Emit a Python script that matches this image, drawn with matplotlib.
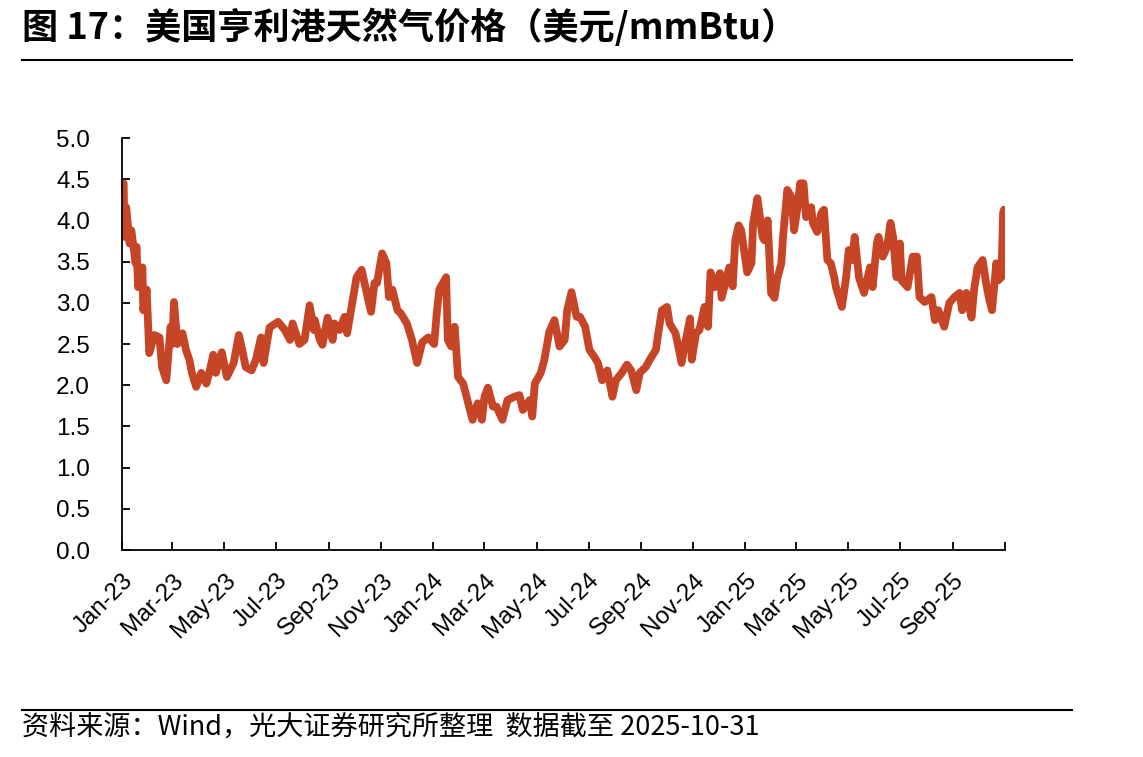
import pandas as pd
import matplotlib.pyplot as plt
from matplotlib.lines import Line2D

# 亨利港天然气现货价格
dates = [
    '2023-01-03', '2023-01-04', '2023-01-06', '2023-01-10', '2023-01-12', '2023-01-17', '2023-01-18',
    '2023-01-20', '2023-01-25', '2023-01-26', '2023-01-30', '2023-02-02', '2023-02-08', '2023-02-14',
    '2023-02-17', '2023-02-22', '2023-02-27', '2023-03-01', '2023-03-03', '2023-03-07', '2023-03-13',
    '2023-03-17', '2023-03-21', '2023-03-24', '2023-03-29', '2023-04-04', '2023-04-10', '2023-04-14',
    '2023-04-18', '2023-04-21', '2023-04-28', '2023-05-04', '2023-05-12', '2023-05-18', '2023-05-22',
    '2023-05-26', '2023-06-02', '2023-06-07', '2023-06-13', '2023-06-16', '2023-06-23', '2023-07-03',
    '2023-07-11', '2023-07-17', '2023-07-20', '2023-07-28', '2023-08-03', '2023-08-09', '2023-08-14',
    '2023-08-15', '2023-08-21', '2023-08-24', '2023-08-30', '2023-09-05', '2023-09-07', '2023-09-13',
    '2023-09-19', '2023-09-22', '2023-09-27', '2023-10-03', '2023-10-09', '2023-10-16', '2023-10-20',
    '2023-10-24', '2023-10-27', '2023-11-02', '2023-11-07', '2023-11-10', '2023-11-14', '2023-11-20',
    '2023-11-24', '2023-12-01', '2023-12-07', '2023-12-13', '2023-12-19', '2023-12-26',
    '2024-01-02', '2024-01-05', '2024-01-08', '2024-01-16', '2024-01-18', '2024-01-22', '2024-01-26',
    '2024-01-30', '2024-02-05', '2024-02-09', '2024-02-16', '2024-02-22', '2024-02-27', '2024-03-01',
    '2024-03-05', '2024-03-11', '2024-03-15', '2024-03-22', '2024-03-28', '2024-04-05', '2024-04-11',
    '2024-04-15', '2024-04-23', '2024-04-26', '2024-04-29', '2024-05-06', '2024-05-10', '2024-05-16',
    '2024-05-22', '2024-05-28', '2024-06-03', '2024-06-06', '2024-06-11', '2024-06-17', '2024-06-21',
    '2024-06-27', '2024-07-02', '2024-07-08', '2024-07-12', '2024-07-17', '2024-07-23', '2024-07-29',
    '2024-08-02', '2024-08-09', '2024-08-15', '2024-08-20', '2024-08-26', '2024-08-30', '2024-09-06',
    '2024-09-12', '2024-09-18', '2024-09-20', '2024-09-25', '2024-10-01', '2024-10-04', '2024-10-11',
    '2024-10-15', '2024-10-18', '2024-10-23', '2024-10-28', '2024-10-30', '2024-11-04', '2024-11-08',
    '2024-11-14', '2024-11-18', '2024-11-21', '2024-11-26', '2024-12-02', '2024-12-04', '2024-12-13',
    '2024-12-17', '2024-12-20', '2024-12-24', '2024-12-27',
    '2025-01-03', '2025-01-08', '2025-01-10', '2025-01-15', '2025-01-21', '2025-01-23', '2025-01-27',
    '2025-01-31', '2025-02-04', '2025-02-07', '2025-02-12', '2025-02-14', '2025-02-19', '2025-02-24',
    '2025-02-27', '2025-03-03', '2025-03-06', '2025-03-10', '2025-03-13', '2025-03-19', '2025-03-21',
    '2025-03-26', '2025-03-31', '2025-04-03', '2025-04-07', '2025-04-11', '2025-04-15', '2025-04-17',
    '2025-04-24', '2025-04-29', '2025-05-02', '2025-05-06', '2025-05-09', '2025-05-14', '2025-05-20',
    '2025-05-27', '2025-05-30', '2025-06-04', '2025-06-06', '2025-06-11', '2025-06-16', '2025-06-20',
    '2025-06-23', '2025-06-27', '2025-07-01', '2025-07-03', '2025-07-10', '2025-07-16', '2025-07-21',
    '2025-07-24', '2025-07-30', '2025-08-07', '2025-08-11', '2025-08-15', '2025-08-22', '2025-08-28',
    '2025-09-03', '2025-09-09', '2025-09-12', '2025-09-17', '2025-09-23', '2025-09-26', '2025-09-30',
    '2025-10-06', '2025-10-10', '2025-10-14', '2025-10-17', '2025-10-22', '2025-10-24', '2025-10-28',
    '2025-10-30', '2025-10-31',
]
prices = [
    4.45, 3.80, 4.16, 3.72, 3.88, 3.48, 3.68,
    3.19, 3.43, 2.91, 3.16, 2.39, 2.61, 2.58,
    2.22, 2.06, 2.71, 2.50, 3.01, 2.50, 2.63,
    2.43, 2.31, 2.15, 1.98, 2.15, 2.02, 2.18,
    2.37, 2.15, 2.40, 2.10, 2.27, 2.61, 2.43,
    2.22, 2.18, 2.31, 2.58, 2.27, 2.70, 2.77,
    2.67, 2.55, 2.75, 2.50, 2.55, 2.97, 2.67,
    2.79, 2.55, 2.49, 2.82, 2.55, 2.75, 2.67,
    2.83, 2.63, 2.94, 3.31, 3.40, 3.07, 2.89,
    3.24, 3.24, 3.60, 3.48, 3.07, 3.16, 2.91,
    2.87, 2.75, 2.55, 2.27, 2.52, 2.58,
    2.50, 2.87, 3.16, 3.31, 2.55, 2.47, 2.71,
    2.10, 2.02, 1.86, 1.58, 1.78, 1.58, 1.86,
    1.97, 1.74, 1.74, 1.58, 1.82, 1.86, 1.88,
    1.70, 1.82, 1.62, 2.02, 2.15, 2.30, 2.65,
    2.79, 2.47, 2.55, 2.91, 3.13, 2.83, 2.83,
    2.71, 2.43, 2.34, 2.27, 2.06, 2.18, 1.86,
    2.06, 2.15, 2.25, 2.18, 1.94, 2.15, 2.22,
    2.33, 2.43, 2.58, 2.91, 2.95, 2.75, 2.63,
    2.43, 2.27, 2.55, 2.81, 2.31, 2.63, 2.67,
    2.95, 2.71, 3.37, 3.19, 3.36, 3.06, 3.43,
    3.20, 3.76, 3.94, 3.88,
    3.37, 3.48, 3.97, 4.27, 3.80, 3.76, 4.00,
    3.12, 3.06, 3.28, 3.48, 3.80, 4.37, 4.28,
    3.88, 4.16, 4.45, 4.45, 4.04, 4.16, 3.97,
    3.86, 4.09, 4.13, 3.52, 3.48, 3.31, 3.19,
    2.95, 3.31, 3.64, 3.52, 3.80, 3.31, 3.12,
    3.43, 3.19, 3.72, 3.80, 3.56, 3.68, 3.97,
    3.80, 3.31, 3.72, 3.27, 3.19, 3.56, 3.56,
    3.07, 3.01, 3.07, 2.79, 2.91, 2.71, 3.00,
    3.07, 3.12, 2.91, 3.12, 2.82, 3.16, 3.43,
    3.52, 3.24, 3.03, 2.91, 3.48, 3.27, 3.31,
    4.09, 4.13,
]
yticks = [0, 0.5, 1.0, 1.5, 2.0, 2.5, 3.0, 3.5, 4.0, 4.5, 5.0]

title = '图 17：美国亨利港天然气价格（美元/mmBtu）'
source = '资料来源：Wind，光大证券研究所整理  数据截至 2025-10-31'

plt.rcParams['font.family'] = ['Liberation Sans', 'Noto Sans CJK SC']

fig = plt.figure(figsize=(11.43, 7.57), dpi=100)
ax = fig.add_axes([0.1067, 0.2734, 0.7724, 0.5443])

x = pd.to_datetime(dates)
ax.plot(x, prices, color='#C64526', lw=5.6, solid_joinstyle='round', solid_capstyle='round')

ax.set_ylim(0, 5)
ax.set_yticks(yticks)
ax.yaxis.set_major_formatter('{x:.1f}')

ax.set_xlim(pd.Timestamp('2023-01-01'), pd.Timestamp('2025-11-01'))
ticks = pd.date_range('2023-01-01', '2025-11-01', freq='2MS')
labels = [t.strftime('%b-%y') for t in ticks]
labels[-1] = ''
ax.set_xticks(ticks)
ax.set_xticklabels(labels, rotation=45, ha='right', rotation_mode='anchor')

for s in ['top', 'right']:
    ax.spines[s].set_visible(False)
for s in ['left', 'bottom']:
    ax.spines[s].set_linewidth(1.3)

ax.tick_params(direction='in', length=6, width=1.3, labelsize=17.5, colors='black')
ax.tick_params(axis='y', pad=23)
ax.tick_params(axis='x', pad=14)

fig.text(22 / 1143, 1 - 28 / 757, title, fontsize=26, fontweight='bold',
         family=['Noto Sans CJK SC'], va='center')
fig.add_artist(Line2D([22 / 1143, 1072 / 1143], [1 - 60 / 757] * 2, color='black', lw=1.5))
fig.add_artist(Line2D([22 / 1143, 1072 / 1143], [1 - 710 / 757] * 2, color='black', lw=1.5))
fig.text(22 / 1143, 1 - 727 / 757, source, fontsize=19.5,
         family=['Noto Sans CJK SC'], va='center')

fig.savefig('out.png', dpi=100)
